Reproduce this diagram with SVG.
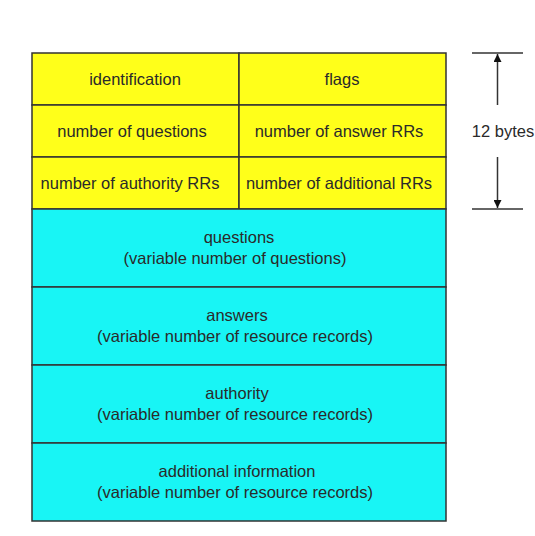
<svg xmlns="http://www.w3.org/2000/svg" width="535" height="536" viewBox="0 0 535 536">
<style>
.y{fill:#FFFF1A;stroke:#333;stroke-width:1.5}
.c{fill:#18F5F5;stroke:#333;stroke-width:1.5}
text{font-family:"Liberation Sans",Arial,sans-serif;font-size:16.5px;fill:#2a2a2a;text-anchor:middle}
.ln{stroke:#333;stroke-width:1.5;fill:none}
</style>
<defs>
<marker id="ah" viewBox="0 0 10 10" refX="10" refY="5" markerWidth="10" markerHeight="8" markerUnits="userSpaceOnUse" orient="auto">
<path d="M0,0 L10,5 L0,10 z" fill="#111"/>
</marker>
</defs>
<g id="identification"><rect class="y" x="32" y="53" width="207" height="52"/><text x="135" y="85">identification</text></g>
<g id="flags"><rect class="y" x="239" y="53" width="207" height="52"/><text x="342" y="85">flags</text></g>
<g id="num-questions"><rect class="y" x="32" y="105" width="207" height="52"/><text x="132" y="137">number of questions</text></g>
<g id="num-answer"><rect class="y" x="239" y="105" width="207" height="52"/><text x="339" y="137">number of answer RRs</text></g>
<g id="num-authority"><rect class="y" x="32" y="157" width="207" height="52"/><text x="130" y="189">number of authority RRs</text></g>
<g id="num-additional"><rect class="y" x="239" y="157" width="207" height="52"/><text x="339" y="189">number of additional RRs</text></g>
<g id="questions"><rect class="c" x="32" y="209" width="414" height="78"/><text x="239" y="243">questions</text><text x="235" y="264">(variable number of questions)</text></g>
<g id="answers"><rect class="c" x="32" y="287" width="414" height="78"/><text x="237" y="321">answers</text><text x="235" y="342">(variable number of resource records)</text></g>
<g id="authority"><rect class="c" x="32" y="365" width="414" height="78"/><text x="237" y="399">authority</text><text x="235" y="420">(variable number of resource  records)</text></g>
<g id="additional"><rect class="c" x="32" y="443" width="414" height="78"/><text x="237" y="477">additional information</text><text x="235" y="498">(variable number of resource records)</text></g>
<g id="connectors">
<line class="ln" x1="472" y1="53" x2="523" y2="53"/>
<line class="ln" x1="472" y1="209" x2="523" y2="209"/>
<line class="ln" x1="497.5" y1="105" x2="497.5" y2="54" marker-end="url(#ah)"/>
<line class="ln" x1="497.5" y1="157" x2="497.5" y2="208" marker-end="url(#ah)"/>
</g>
<text x="503" y="137">12 bytes</text>
</svg>
